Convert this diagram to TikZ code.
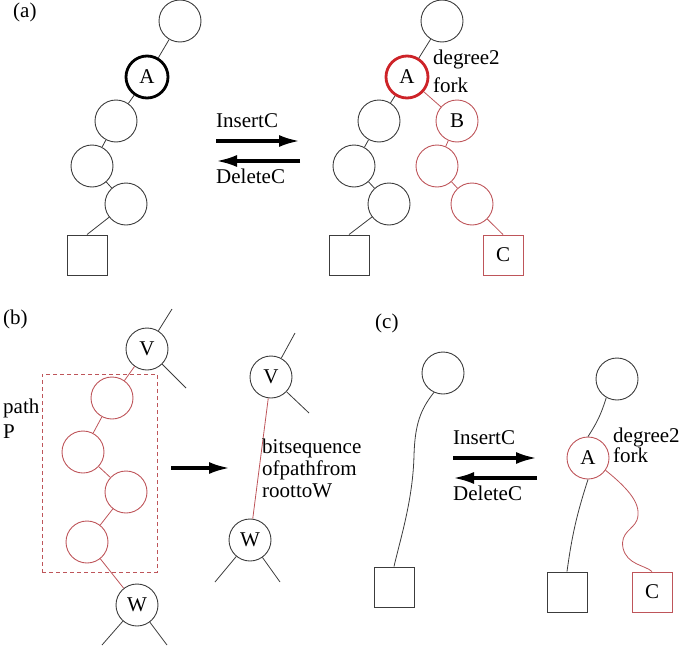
\documentclass[tikz,border=0pt]{standalone}
\usepackage{fontspec}
\setmainfont{Liberation Serif}
\usetikzlibrary{arrows.meta}

\definecolor{inkgrey}{RGB}{60,60,60}
\definecolor{forkred}{RGB}{205,35,40}
\definecolor{pathred}{RGB}{190,85,90}

\begin{document}
\begin{tikzpicture}
[x=1pt, y=-1pt,
 every node/.style={inner sep=0pt, font=\rmfamily\fontsize{21}{25}\selectfont},
 vtx/.style={circle, minimum size=42pt, line width=0.9pt, draw=inkgrey},
 redvtx/.style={vtx, draw=pathred},
 forkvtx/.style={vtx, line width=2.8pt, draw=black},
 redforkvtx/.style={forkvtx, draw=forkred},
 leaf/.style={rectangle, minimum size=40pt, line width=0.9pt, draw=inkgrey},
 redleaf/.style={leaf, draw=pathred},
 edge/.style={line width=0.8pt, color=inkgrey},
 redge/.style={line width=0.8pt, color=pathred},
 bigarrow/.style={line width=3.5pt, -{Latex[length=21pt,width=12pt]}},
 lbl/.style={anchor=base west}]
\useasboundingbox (0,0) rectangle (686,648);

% (a) before
\node (a) [lbl] at (13,17) {(a)};
\node (top1) [vtx] at (180,21) {};
\node (A1) [forkvtx] at (147,77) {A};
\node (l1) [vtx] at (116,121) {};
\node (l2) [vtx] at (92,166) {};
\node (l3) [vtx] at (126,204) {};
\node (sq1) [leaf] at (87,255) {};
\draw [edge] (top1) to (A1);
\draw [edge] (A1) to (l1);
\draw [edge] (l1) to (l2);
\draw [edge] (l2) to (l3);
\draw [edge] (l3) to (sq1.north);

% (a) operations
\node (insa) [lbl] at (216,127) {InsertC};
\node (dela) [lbl] at (216,183) {DeleteC};
\coordinate (ia0) at (216,141);
\coordinate (ia1) at (300,141);
\coordinate (da0) at (300,161);
\coordinate (da1) at (216,161);
\draw [bigarrow] (ia0) to (ia1);
\draw [bigarrow] (da0) to (da1);

% (a) after
\node (top2) [vtx] at (442,21) {};
\node (A2) [redforkvtx] at (407,77) {A};
\node (deg2) [lbl] at (433,64) {degree2};
\node (fork2) [lbl] at (433,92) {fork};
\node (r1) [vtx] at (379,121) {};
\node (r2) [vtx] at (354,166) {};
\node (r3) [vtx] at (389,204) {};
\node (sq2) [leaf] at (349,255) {};
\node (B) [redvtx] at (457,121) {B};
\node (b1) [redvtx] at (437,166) {};
\node (b2) [redvtx] at (472,204) {};
\node (C1) [redleaf] at (503,255) {C};
\draw [edge] (top2) to (A2);
\draw [edge] (A2) to (r1);
\draw [edge] (r1) to (r2);
\draw [edge] (r2) to (r3);
\draw [edge] (r3) to (sq2.north);
\draw [redge] (A2) to (B);
\draw [redge] (B) to (b1);
\draw [redge] (b1) to (b2);
\draw [redge] (b2) to (C1.north);

% (b) path P
\node (b) [lbl] at (3,324) {(b)};
\node (pathbox) [rectangle, minimum width=115pt, minimum height=198pt, draw=pathred, line width=0.8pt, dash pattern=on 4pt off 3pt] at (99.5,473) {};
\node (pathP) [anchor=base west, align=left] at (3,438) {path\\P};
\node (V1) [vtx] at (147,349) {V};
\coordinate (v1up) at (172,309);
\coordinate (v1dn) at (186,388);
\node (p1) [redvtx] at (112,398) {};
\node (p2) [redvtx] at (83,452) {};
\node (p3) [redvtx] at (126,492) {};
\node (p4) [redvtx] at (87,542) {};
\node (W1) [vtx] at (137,605) {W};
\coordinate (w1l) at (102,645);
\coordinate (w1r) at (167,645);
\draw [edge] (V1) to (v1up);
\draw [edge] (V1) to (v1dn);
\draw [redge] (V1) to (p1);
\draw [redge] (p1) to (p2);
\draw [redge] (p2) to (p3);
\draw [redge] (p3) to (p4);
\draw [redge] (p4) to (W1);
\draw [edge] (W1) to (w1l);
\draw [edge] (W1) to (w1r);

\coordinate (pb0) at (171,468);
\coordinate (pb1) at (230,468);
\draw [bigarrow] (pb0) to (pb1);

% (b) bit sequence
\node (V2) [vtx] at (271,377) {V};
\coordinate (v2up) at (295,333);
\coordinate (v2dn) at (309,413);
\node (W2) [vtx] at (250,540) {W};
\coordinate (w2l) at (215,582);
\coordinate (w2r) at (280,582);
\draw [edge] (V2) to (v2up);
\draw [edge] (V2) to (v2dn);
\draw [redge] (V2) to (W2);
\draw [edge] (W2) to (w2l);
\draw [edge] (W2) to (w2r);
\node (bits) [lbl] at (262,453) {bitsequence};
\node (ofpath) [lbl] at (262,475) {ofpathfrom};
\node (rootto) [lbl] at (262,497) {roottoW};

% (c) before
\node (c) [lbl] at (375,328) {(c)};
\node (top3) [vtx] at (443,373) {};
\node (sq3) [leaf] at (394,587) {};
\draw [edge] (top3.245) .. controls (420,410) and (415,425) .. (414,455) .. controls (413,500) and (400,540) .. (sq3.north);

% (c) operations
\node (insc) [lbl] at (453,444) {InsertC};
\node (delc) [lbl] at (453,500) {DeleteC};
\coordinate (ic0) at (453,458);
\coordinate (ic1) at (537,458);
\coordinate (dc0) at (537,478);
\coordinate (dc1) at (453,478);
\draw [bigarrow] (ic0) to (ic1);
\draw [bigarrow] (dc0) to (dc1);

% (c) after
\node (top4) [vtx] at (617,379) {};
\node (A3) [redvtx] at (588,458) {A};
\node (deg3) [lbl] at (613,442) {degree2};
\node (fork3) [lbl] at (613,462) {fork};
\node (sq4) [leaf] at (567,592) {};
\node (C2) [redleaf] at (652,592) {C};
\draw [edge] (top4.240) to [bend left=8] (A3.north);
\draw [edge] (A3.south) to [bend right=5] (sq4.north);
\draw [redge] (A3.-35) .. controls (630,490) and (642,505) .. (637,520) .. controls (633,530) and (620,532) .. (623,548) .. controls (627,565) and (645,565) .. (C2.north);
\end{tikzpicture}
\end{document}
